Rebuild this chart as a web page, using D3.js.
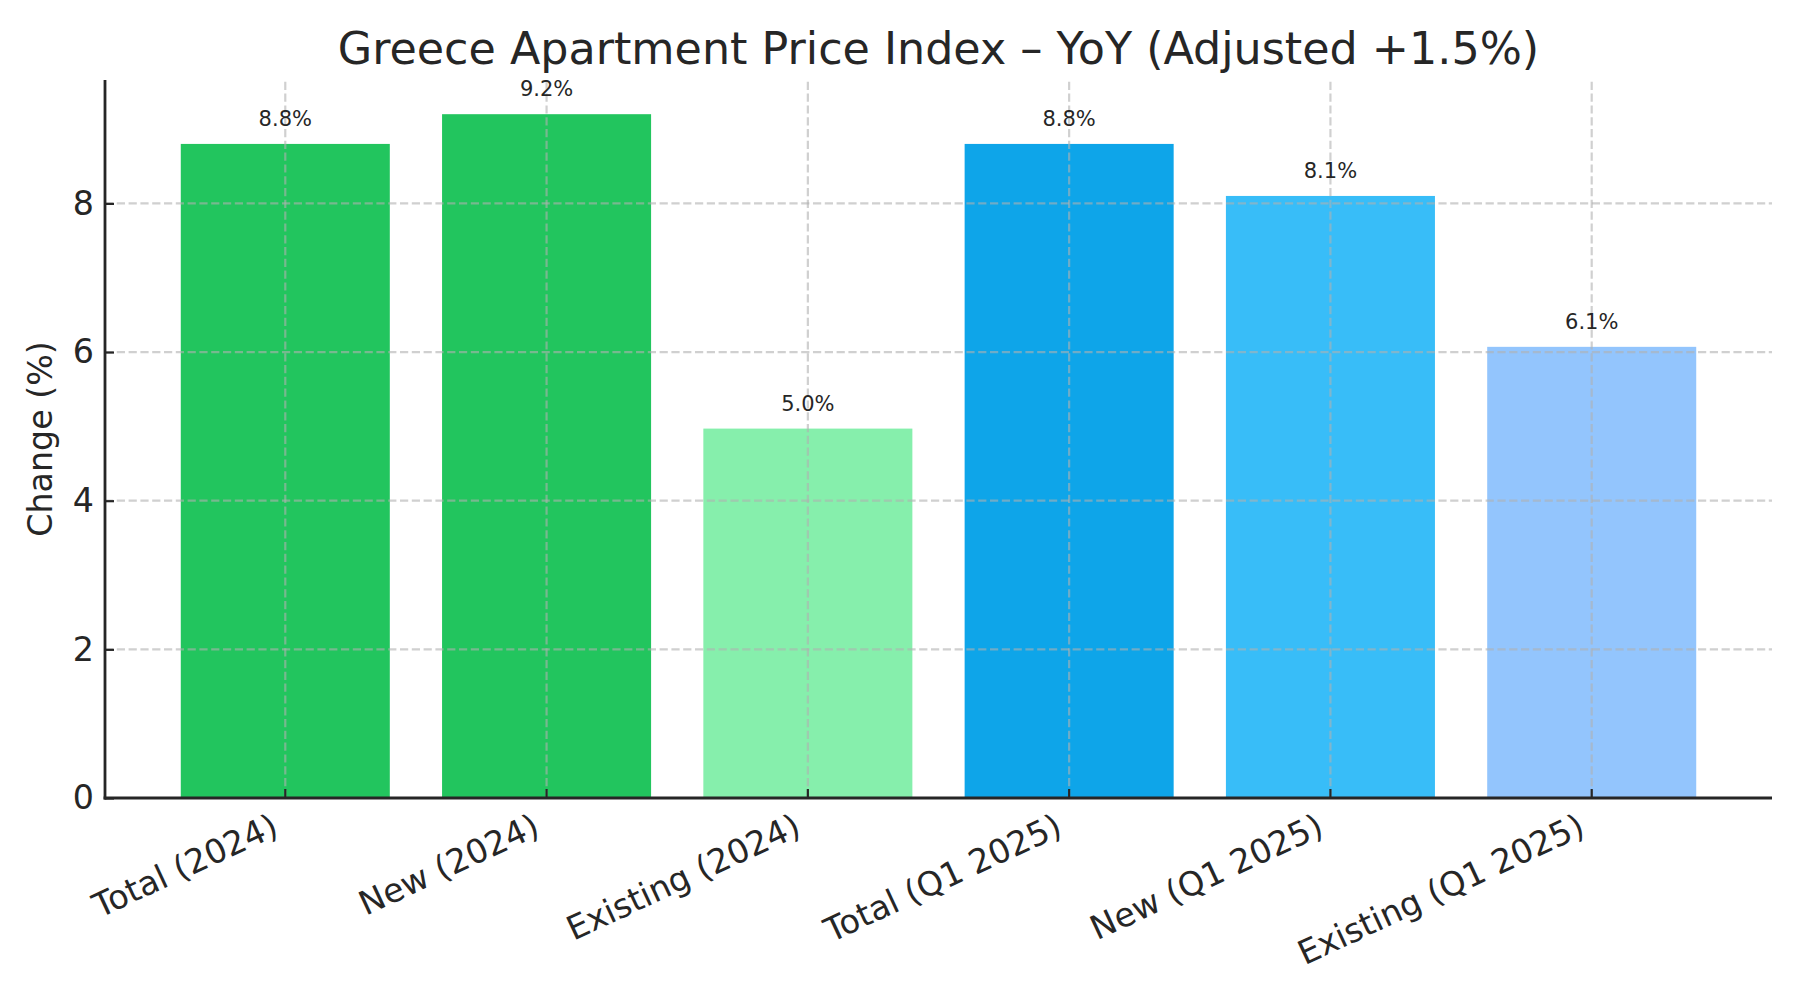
<!DOCTYPE html>
<html>
<head>
<meta charset="utf-8">
<script src="https://cdn.jsdelivr.net/npm/d3@7"></script>
<style>
  html, body { margin: 0; padding: 0; background: #fff; }
  svg { display: block; font-family: "DejaVu Sans", sans-serif; }
</style>
</head>
<body>
<div id="chart"></div>
<script>
// Greece apartment price index, YoY change
const categories = ['Total (2024)', 'New (2024)', 'Existing (2024)', 'Total (Q1 2025)', 'New (Q1 2025)', 'Existing (Q1 2025)'];
const values = [8.8, 9.2, 4.97, 8.8, 8.1, 6.07];
const barColors = ['#22c55e', '#22c55e', '#86efac', '#0ea5e9', '#38bdf8', '#93c5fd'];
const yTicks = [0, 2, 4, 6, 8];
const titleText = 'Greece Apartment Price Index – YoY (Adjusted +1.5%)';
const yLabel = 'Change (%)';

const W = 1800, H = 1000;
const M = { top: 80, right: 28, bottom: 202, left: 105 };
const x0 = M.left, x1 = W - M.right, y0 = H - M.bottom, y1 = M.top;
const ink = '#262626';

const svg = d3.select('#chart').append('svg')
    .attr('width', W).attr('height', H)
    .style('background', '#fff');

const x = d3.scaleBand().domain(categories).range([x0, x1])
    .paddingInner(0.2).paddingOuter(0.29);
const y = d3.scaleLinear().domain([0, d3.max(values) * 1.05]).range([y0, y1]);

// Bars
svg.append('g').selectAll('rect').data(values).enter().append('rect')
    .attr('x', (d, i) => x(categories[i]))
    .attr('width', x.bandwidth())
    .attr('y', d => y(d))
    .attr('height', d => y0 - y(d))
    .attr('fill', (d, i) => barColors[i]);

// Grid (drawn over bars, like the reference)
const grid = svg.append('g')
    .attr('stroke', '#b0b0b0').attr('stroke-opacity', 0.6)
    .attr('stroke-width', 2.2).attr('stroke-dasharray', '8.2,3.6');
grid.selectAll('line.h').data(yTicks).enter().append('line')
    .attr('x1', x0).attr('x2', x1)
    .attr('y1', d => y(d)).attr('y2', d => y(d));
grid.selectAll('line.v').data(categories).enter().append('line')
    .attr('x1', d => x(d) + x.bandwidth() / 2).attr('x2', d => x(d) + x.bandwidth() / 2)
    .attr('y1', y0).attr('y2', y1);

// Axes
const yAxis = svg.append('g').attr('transform', `translate(${x0},0)`)
    .call(d3.axisLeft(y).tickValues(yTicks).tickSizeInner(-9).tickSizeOuter(0).tickPadding(11));
const xAxis = svg.append('g').attr('transform', `translate(0,${y0})`)
    .call(d3.axisBottom(x).tickSizeInner(-9).tickSizeOuter(0).tickFormat(''));

[yAxis, xAxis].forEach(a => {
    a.select('.domain').remove();
    a.selectAll('.tick line').attr('stroke', ink).attr('stroke-width', 2.2);
});
yAxis.selectAll('.tick text')
    .attr('fill', ink).attr('font-size', 33.3)
    .attr('font-family', '"DejaVu Sans", sans-serif');

// Spines (left and bottom only)
svg.append('line').attr('x1', x0).attr('x2', x0).attr('y1', y1).attr('y2', y0 + 1.4)
    .attr('stroke', ink).attr('stroke-width', 2.8);
svg.append('line').attr('x1', x0 - 1.4).attr('x2', x1).attr('y1', y0).attr('y2', y0)
    .attr('stroke', ink).attr('stroke-width', 2.8);

// Rotated category labels
svg.append('g').selectAll('text').data(categories).enter().append('text')
    .attr('transform', d => `translate(${x(d) + x.bandwidth() / 2 - 5},${y0 + 36}) rotate(-25)`)
    .attr('text-anchor', 'end')
    .attr('fill', ink).attr('font-size', 33.3)
    .text(d => d);

// Value labels
svg.append('g').selectAll('text').data(values).enter().append('text')
    .attr('x', (d, i) => x(categories[i]) + x.bandwidth() / 2)
    .attr('y', d => y(d) - 18)
    .attr('text-anchor', 'middle')
    .attr('fill', ink).attr('font-size', 21)
    .text(d => d.toFixed(1) + '%');

// Title and y label
svg.append('text').attr('x', (x0 + x1) / 2).attr('y', 64)
    .attr('text-anchor', 'middle').attr('fill', ink).attr('font-size', 44.4)
    .text(titleText);
svg.append('text')
    .attr('transform', `translate(52,${(y0 + y1) / 2}) rotate(-90)`)
    .attr('text-anchor', 'middle').attr('fill', ink).attr('font-size', 33.3)
    .text(yLabel);
</script>
</body>
</html>
